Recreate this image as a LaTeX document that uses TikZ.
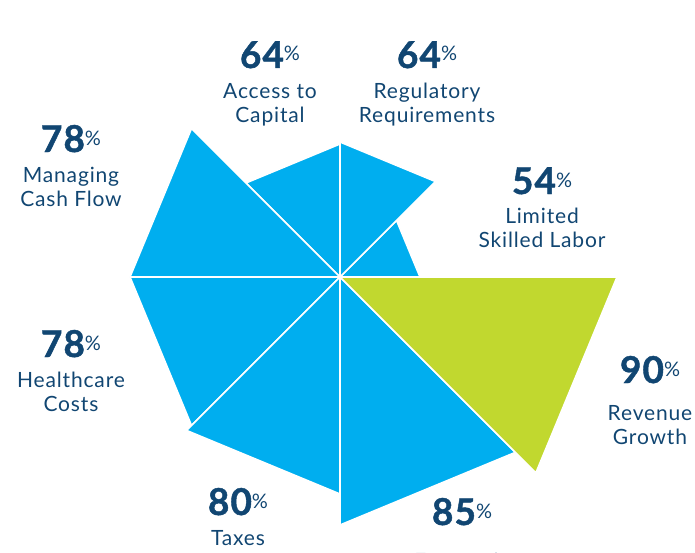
\documentclass[tikz,border=0pt]{standalone}
\usepackage{fontspec}
\setmainfont{Lato}
\usepackage{tikz}

\definecolor{skyblue}{RGB}{0,174,239}
\definecolor{limegreen}{RGB}{193,216,47}
\definecolor{navy}{RGB}{17,70,114}

\newcommand{\pc}{{\fontsize{20}{20}\selectfont\mdseries\addfontfeature{FakeBold=0}\raisebox{7pt}{\%}}}

\tikzset{
  wedge/.style={draw=white, line width=1.6pt, line join=round},
  num/.style={anchor=base, text=navy, font=\bfseries\fontsize{37}{37}\selectfont\addfontfeature{LetterSpace=3,FakeBold=1.2}, inner sep=0pt},
  txt/.style={anchor=base, text=navy, align=center, font=\fontsize{21}{24}\selectfont\addfontfeature{LetterSpace=4}, inner sep=0pt}
}

\begin{document}
\begin{tikzpicture}[x=1pt, y=1pt]
  \useasboundingbox (-340,-275) rectangle (355,277);
  \clip (-340,-275) rectangle (355,277);
  \coordinate (ctr) at (0,0);
  % wedges, counterclockwise from the right
  \foreach \a/\r/\c in {0/80/skyblue, 45/135/skyblue, 90/133/skyblue, 135/210/skyblue,
                        180/210/skyblue, 225/217/skyblue, 270/248/skyblue, 315/277/limegreen}
    \filldraw[wedge, fill=\c] (ctr) -- (\a:\r) -- ({\a+45}:\r) -- cycle;

  % labels (two-line texts sit on the baseline of their last line)
  \node[num] (capnum) at (-70,209) {64\pc};
  \node[txt] (captxt) at (-70,155) {Access to\\Capital};
  \node[num] (regnum) at (87,209) {64\pc};
  \node[txt] (regtxt) at (87,155) {Regulatory\\Requirements};
  \node[num] (labnum) at (202,83) {54\pc};
  \node[txt] (labtxt) at (202,30) {Limited\\Skilled Labor};
  \node[num] (cashnum) at (-269,125) {78\pc};
  \node[txt] (cashtxt) at (-269,71) {Managing\\Cash Flow};
  \node[num] (hcnum) at (-269,-80) {78\pc};
  \node[txt] (hctxt) at (-269,-134) {Healthcare\\Costs};
  \node[num] (revnum) at (310,-106) {90\pc};
  \node[txt] (revtxt) at (310,-167) {Revenue\\Growth};
  \node[num] (taxnum) at (-102,-238) {80\pc};
  \node[txt] (taxtxt) at (-102,-268) {Taxes};
  \node[num] (econum) at (122,-248) {85\pc};
  \node[txt] (ecotxt) at (122,-291) {Economic};
\end{tikzpicture}
\end{document}
